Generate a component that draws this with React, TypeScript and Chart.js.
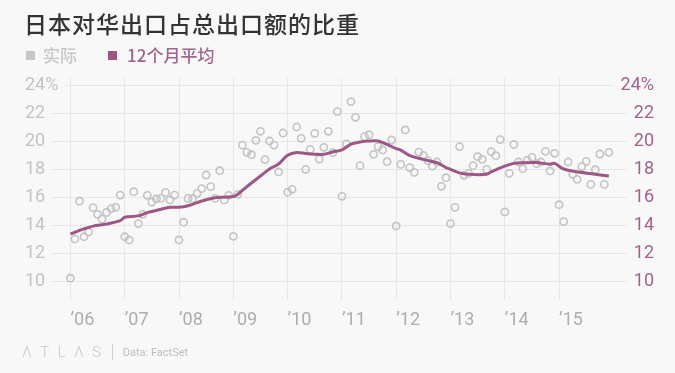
import React, { useEffect, useRef } from "react";
import { Chart, registerables } from "chart.js";

Chart.register(...registerables);

// Monthly share of exports to China (%), Jan 2006 – Dec 2015 (month index 0..119)
const actualValues: number[] = [
  10.2, 13.0, 15.7, 13.16, 13.5, 15.24, 14.76, 14.43, 14.9, 15.17, 15.26, 16.14,
  13.16, 12.93, 16.38, 14.1, 14.76, 16.12, 15.64, 15.86, 15.9, 16.33, 15.79, 16.14,
  12.93, 14.2, 15.9, 15.88, 16.26, 16.6, 17.57, 16.74, 15.9, 17.88, 15.79, 16.12,
  13.19, 16.19, 19.71, 19.19, 19.02, 20.05, 20.69, 18.67, 20.0, 19.71, 17.79, 20.57,
  16.34, 16.55, 21.0, 20.19, 17.98, 19.4, 20.55, 18.71, 19.55, 20.69, 19.16, 22.1,
  16.05, 19.79, 22.81, 21.69, 18.24, 20.31, 20.45, 19.05, 19.6, 19.36, 18.52, 20.07,
  13.93, 18.33, 20.79, 18.1, 17.76, 19.21, 18.98, 18.6, 18.21, 18.5, 16.76, 17.38,
  14.1, 15.26, 19.6, 17.55, 17.69, 18.24, 18.88, 18.69, 17.98, 19.24, 18.95, 20.1,
  14.93, 17.69, 19.75, 18.5, 18.02, 18.64, 18.83, 18.38, 18.5, 19.26, 17.86, 19.12,
  15.45, 14.24, 18.5, 17.62, 17.26, 18.17, 18.55, 16.9, 17.95, 19.07, 16.9, 19.19,
];

// 12-month average, read at these month indices
const avgMonths: number[] = [
  0, 3, 5, 8, 11, 12, 15, 17, 20, 22, 24, 26, 28, 30, 32, 34, 36, 37, 39, 42, 44,
  46, 48, 50, 52, 54, 56, 58, 60, 62, 64, 66, 68, 70, 72, 73, 75, 78, 81, 83, 84,
  86, 88, 92, 93, 96, 98, 100, 103, 106, 107, 109, 112, 116, 119,
];
const avgValues: number[] = [
  13.36, 13.72, 13.92, 14.07, 14.31, 14.55, 14.65, 14.88, 15.12, 15.26, 15.27,
  15.38, 15.6, 15.8, 15.95, 15.99, 16.03, 16.2, 16.74, 17.5, 18.0, 18.36, 18.98,
  19.18, 19.1, 19.05, 19.05, 19.22, 19.36, 19.78, 19.93, 20.0, 20.0, 19.75, 19.45,
  19.35, 18.95, 18.69, 18.45, 18.1, 17.98, 17.72, 17.62, 17.62, 17.8, 18.2, 18.4,
  18.45, 18.46, 18.34, 18.4, 18.0, 17.8, 17.62, 17.5,
];

const yearTickMonths: number[] = [0, 12, 24, 36, 48, 60, 72, 84, 96, 108];
const yearLabels: string[] = ["’06", "’07", "’08", "’09", "’10", "’11", "’12", "’13", "’14", "’15"];
const yTickValues: number[] = [10, 12, 14, 16, 18, 20, 22, 24];

const BG = "#f8f8f8";
const GRID = "#e6e6e6";
const GRAY_POINT = "#c3c3c3";
const PURPLE = "#9c5787";
const PURPLE_TEXT = "#a0628e";
const LEFT_TICK = "#c4c4c4";
const X_TICK = "#adadad";
const TICK_FONT = "Roboto";
const TICK_SIZE = 18;

const yLabel = (v: number) => (v === 24 ? "24%" : String(v));

export default function App() {
  const canvasRef = useRef<HTMLCanvasElement>(null);

  useEffect(() => {
    document.body.style.margin = "0";
    document.body.style.background = BG;
    const canvas = canvasRef.current;
    if (!canvas) return;

    const hGrid = {
      id: "hGrid",
      beforeDatasetsDraw(chart: any) {
        const ctx = chart.ctx;
        const y = chart.scales.y;
        const y2 = chart.scales.y2;
        ctx.save();
        ctx.font = `${TICK_SIZE}px ${TICK_FONT}`;
        ctx.strokeStyle = GRID;
        ctx.lineWidth = 1;
        yTickValues.forEach((v) => {
          const py = Math.round(y.getPixelForValue(v)) + 0.5;
          const w = ctx.measureText(yLabel(v)).width;
          const x0 = y.left + w + 7;
          const x1 = y2.right - w - 7;
          ctx.beginPath();
          ctx.moveTo(x0, py);
          ctx.lineTo(x1, py);
          ctx.stroke();
        });
        ctx.restore();
      },
    };

    const yMin = 8.643;
    const yMax = 24.5;

    const chart = new Chart(canvas, {
      type: "scatter",
      data: {
        datasets: [
          {
            type: "line",
            label: "12个月平均",
            data: avgMonths.map((m, i) => ({ x: m, y: avgValues[i] })),
            borderColor: PURPLE,
            borderWidth: 3,
            pointRadius: 0,
            tension: 0.3,
            fill: false,
            order: 0,
            yAxisID: "y",
          } as any,
          {
            type: "scatter",
            label: "实际",
            data: actualValues.map((v, i) => ({ x: i, y: v })),
            borderColor: GRAY_POINT,
            backgroundColor: "rgba(0,0,0,0)",
            borderWidth: 1.6,
            pointRadius: 3.6,
            order: 1,
            yAxisID: "y",
          },
        ],
      },
      options: {
        animation: false,
        responsive: false,
        layout: { padding: { left: 25, right: 21, top: 78, bottom: 0 } },
        plugins: {
          legend: { display: false },
          tooltip: { enabled: false },
        },
        scales: {
          x: {
            type: "linear",
            min: -1,
            max: 120.2,
            bounds: "data",
            afterBuildTicks: (s: any) => {
              s.ticks = yearTickMonths.map((v) => ({ value: v }));
            },
            afterFit: (s: any) => {
              s.height = 73;
            },
            ticks: {
              align: "start",
              autoSkip: false,
              maxRotation: 0,
              padding: 10,
              color: X_TICK,
              font: { family: TICK_FONT, size: TICK_SIZE },
              callback: (v: any) => {
                const idx = yearTickMonths.indexOf(Number(v));
                return idx >= 0 ? yearLabels[idx] : "";
              },
            },
            grid: { color: GRID, drawTicks: false, lineWidth: 1 },
            border: { display: false },
          },
          y: {
            position: "left",
            min: yMin,
            max: yMax,
            afterBuildTicks: (s: any) => {
              s.ticks = yTickValues.map((v) => ({ value: v }));
            },
            afterFit: (s: any) => {
              s.width = 40.9;
            },
            ticks: {
              crossAlign: "far",
              color: LEFT_TICK,
              font: { family: TICK_FONT, size: TICK_SIZE },
              callback: (v: any) => yLabel(Number(v)),
            },
            grid: { display: false },
            border: { display: false },
          },
          y2: {
            position: "right",
            min: yMin,
            max: yMax,
            afterBuildTicks: (s: any) => {
              s.ticks = yTickValues.map((v) => ({ value: v }));
            },
            afterFit: (s: any) => {
              s.width = 39.7;
            },
            ticks: {
              crossAlign: "far",
              color: PURPLE_TEXT,
              font: { family: TICK_FONT, size: TICK_SIZE },
              callback: (v: any) => yLabel(Number(v)),
            },
            grid: { display: false },
            border: { display: false },
          },
        },
      } as any,
      plugins: [hGrid],
    });

    return () => chart.destroy();
  }, []);

  const cjk = '"Noto Sans CJK SC", "Noto Sans", sans-serif';

  return (
    <div
      style={{
        position: "fixed",
        left: 0,
        top: 0,
        width: 675,
        height: 373,
        background: BG,
        overflow: "hidden",
      }}
    >
      <canvas
        ref={canvasRef}
        width={675}
        height={373}
        style={{ position: "absolute", left: 0, top: 0, width: 675, height: 373 }}
      />
      <div
        style={{
          position: "absolute",
          left: 24,
          top: 10,
          fontFamily: cjk,
          fontSize: 23,
          lineHeight: "26px",
          fontWeight: 500,
          letterSpacing: 1,
          color: "#333333",
          whiteSpace: "nowrap",
        }}
      >
        日本对华出口占总出口额的比重
      </div>
      <div
        style={{
          position: "absolute",
          left: 26,
          top: 45,
          fontFamily: cjk,
          fontSize: 17,
          lineHeight: "20px",
          fontWeight: 500,
          display: "flex",
          alignItems: "center",
          whiteSpace: "nowrap",
        }}
      >
        <span style={{ display: "inline-block", width: 9, height: 9, background: "#c6c6c6", marginRight: 8 }} />
        <span style={{ color: "#c6c6c6" }}>实际</span>
        <span style={{ display: "inline-block", width: 9, height: 9, background: PURPLE, marginLeft: 31, marginRight: 10 }} />
        <span style={{ color: PURPLE_TEXT }}>12个月平均</span>
      </div>
      <div
        style={{
          position: "absolute",
          left: 22,
          top: 343,
          display: "flex",
          alignItems: "center",
          whiteSpace: "nowrap",
          color: "#c8c8c8",
        }}
      >
        <span style={{ fontFamily: "Roboto", fontWeight: 300, fontSize: 15, letterSpacing: 8.5 }}>ΛTLΛS</span>
        <span style={{ display: "inline-block", width: 1, height: 16, background: "#d0d0d0", marginLeft: 2, marginRight: 10 }} />
        <span style={{ fontFamily: "Roboto", fontSize: 11, color: "#bdbdbd" }}>Data: FactSet</span>
      </div>
    </div>
  );
}
